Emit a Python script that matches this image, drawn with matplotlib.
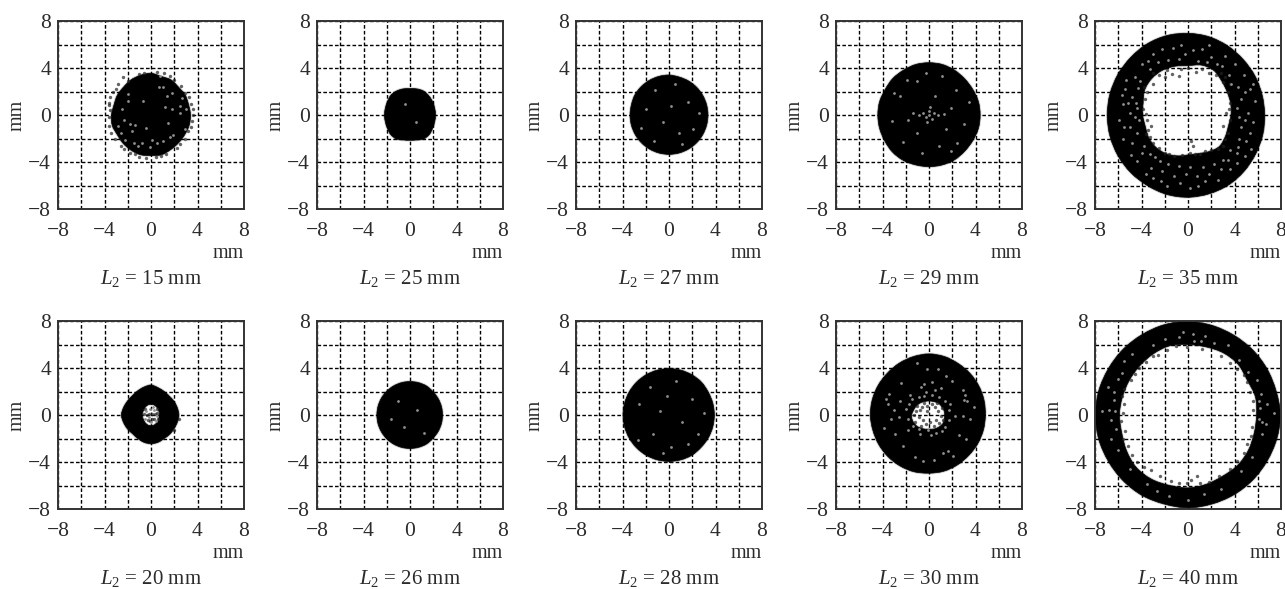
import matplotlib.pyplot as plt
import numpy as np
from matplotlib.path import Path
from matplotlib.patches import PathPatch

plt.rcParams['font.family'] = ['Liberation Serif', 'DejaVu Serif']
plt.rcParams['mathtext.fontset'] = 'custom'
plt.rcParams['mathtext.rm'] = 'Liberation Serif'
plt.rcParams['mathtext.it'] = 'Liberation Serif:italic'

W, H = 1285, 589
TXT = '#2b2b2b'

# L2 value of each panel, left to right
top_L2 = [15, 25, 27, 29, 35]
bottom_L2 = [20, 26, 28, 30, 40]

# outline radii in mm, every 15 deg counter-clockwise from east
outer_15 = [3.4, 3.35, 3.4, 3.35, 3.45, 3.4, 3.55, 3.5, 3.45, 3.35, 3.35, 3.3, 3.4, 3.45, 3.35, 3.4, 3.45, 3.5, 3.45, 3.5, 3.4, 3.35, 3.35, 3.4]
outer_25 = [2.2, 2.2, 2.25, 2.3, 2.35, 2.3, 2.25, 2.3, 2.35, 2.35, 2.25, 2.2, 2.2, 2.2, 2.25, 2.35, 2.35, 2.2, 2.15, 2.2, 2.35, 2.35, 2.25, 2.2]
outer_27 = [3.35, 3.35, 3.35, 3.35, 3.35, 3.35, 3.4, 3.4, 3.4, 3.4, 3.4, 3.35, 3.35, 3.35, 3.35, 3.35, 3.35, 3.35, 3.35, 3.35, 3.35, 3.35, 3.35, 3.35]
outer_29 = [4.4, 4.4, 4.35, 4.35, 4.4, 4.45, 4.45, 4.45, 4.4, 4.4, 4.35, 4.4, 4.4, 4.4, 4.4, 4.45, 4.45, 4.4, 4.4, 4.4, 4.4, 4.35, 4.35, 4.4]
outer_35 = [6.6, 6.6, 6.65, 6.7, 6.8, 6.9, 6.95, 7.0, 7.0, 6.95, 6.95, 6.95, 6.95, 6.95, 6.95, 6.95, 6.95, 7.0, 7.0, 6.95, 6.9, 6.8, 6.7, 6.65]
outer_20 = [2.4, 2.35, 2.3, 2.25, 2.3, 2.4, 2.55, 2.45, 2.35, 2.3, 2.35, 2.45, 2.55, 2.45, 2.35, 2.25, 2.3, 2.4, 2.45, 2.4, 2.3, 2.3, 2.3, 2.35]
outer_26 = [2.8, 2.8, 2.8, 2.8, 2.85, 2.85, 2.85, 2.85, 2.85, 2.85, 2.85, 2.85, 2.85, 2.85, 2.85, 2.85, 2.85, 2.85, 2.85, 2.85, 2.85, 2.8, 2.8, 2.8]
outer_28 = [3.9, 3.9, 3.9, 3.95, 3.95, 3.95, 3.95, 3.95, 3.95, 3.95, 3.95, 3.95, 3.95, 3.95, 3.95, 3.95, 3.95, 3.95, 3.95, 3.95, 3.95, 3.9, 3.9, 3.9]
outer_30 = [4.85, 4.9, 4.95, 5.0, 5.05, 5.15, 5.2, 5.15, 5.1, 5.05, 5.05, 5.05, 5.05, 5.0, 5.0, 5.0, 5.0, 5.0, 4.95, 4.95, 4.9, 4.85, 4.85, 4.85]
outer_40 = [7.95, 7.85, 7.85, 7.85, 7.85, 7.9, 7.95, 7.95, 7.9, 7.9, 7.9, 7.95, 7.95, 7.95, 7.9, 7.9, 7.9, 7.85, 7.9, 7.85, 7.85, 7.85, 7.85, 7.9]

inner_35 = [3.7, 3.8, 3.9, 4.1, 4.4, 4.4, 4.2, 4.3, 4.4, 4.4, 4.3, 4.0, 3.9, 3.8, 3.9, 3.9, 3.8, 3.6, 3.4, 3.4, 3.6, 3.8, 3.7, 3.6]
inner_20 = [0.7, 0.75, 0.75, 0.8, 0.85, 0.9, 0.9, 0.9, 0.85, 0.8, 0.75, 0.75, 0.75, 0.75, 0.75, 0.8, 0.85, 0.9, 0.9, 0.9, 0.85, 0.8, 0.75, 0.7]
inner_30 = [1.35, 1.35, 1.3, 1.3, 1.25, 1.2, 1.2, 1.2, 1.25, 1.3, 1.35, 1.4, 1.5, 1.5, 1.45, 1.4, 1.3, 1.25, 1.2, 1.25, 1.3, 1.35, 1.4, 1.35]
inner_40 = [5.9, 6.0, 5.9, 6.1, 6.1, 6.0, 6.0, 6.1, 6.0, 5.9, 5.85, 5.85, 5.9, 5.9, 6.1, 6.3, 6.3, 6.2, 6.2, 6.1, 6.0, 6.05, 6.0, 5.9]

# pale specks inside the black parts, (x, y) in mm
pale_15 = [(-1.95, 1.8), (-1.95, 1.2), (-0.66, 1.2), (-2.5, 0.5), (1.35, 1.6), (1.8, 1.85), (2.65, 1.45), (2.5, 0.75), (1.8, 0.5), (1.2, 0.7), (2.5, 0.15), (1.45, -0.65), (-2.3, -0.45), (-2.8, -0.9), (-1.8, -0.75), (-1.4, -0.85), (-0.45, -1.1), (-1.65, -1.4), (1.9, -1.7), (1.65, -1.85), (-1.5, -2.35), (-0.8, -2.4), (0.05, -2.1), (0.5, -2.35), (1.05, -2.25), (-0.1, -2.7), (0.8, 3.3), (0.7, 2.4), (1.05, 2.4), (-2.6, -1.5), (-2.2, -2.1), (2.9, -1.2), (3.0, 0.5), (-1.1, -2.6)]
pale_25 = [(-0.4, 0.9), (0.5, -0.6)]
pale_27 = [(-1.2, 2.1), (0.5, 2.6), (1.6, 1.1), (-2.0, 0.5), (-0.5, -0.6), (0.9, -1.5), (-1.3, -2.2), (2.1, -1.2), (0.2, 0.8), (-2.4, -1.1), (1.1, -2.5), (2.6, 0.2)]
pale_29 = [(-0.5, 0.2), (0.0, 0.3), (0.4, 0.2), (0.8, 0.0), (-0.9, 0.0), (-0.3, -0.2), (0.3, -0.3), (-1.4, 0.2), (1.3, 0.1), (0.1, 0.7), (-0.2, -0.6), (0.0, 0.0), (-1.8, -0.4), (1.9, 0.6), (-2.5, 1.6), (2.3, 2.1), (-1.0, 2.9), (1.1, 3.3), (3.0, -0.8), (-3.2, -0.5), (-2.2, -2.3), (0.9, -2.6), (2.4, -2.4), (-0.6, -3.2), (3.4, 1.1), (-3.0, 1.9), (0.5, 1.6), (-1.0, -1.5), (1.5, -1.2), (-0.3, 3.6), (1.9, -3.1), (-1.9, 3.0)]
pale_35 = [(-5.4, 2.2), (-5.0, 0.2), (-4.6, -0.2), (-4.2, -0.4), (-4.8, 1.5), (-5.3, 3.0), (-4.6, 3.2), (-4.0, 4.3), (-3.0, 5.2), (-2.2, 5.6), (-1.3, 5.7), (0.4, 5.5), (1.2, 5.6), (2.0, 4.9), (3.2, 5.0), (4.0, 4.3), (4.8, 3.4), (5.3, 2.2), (4.6, 1.4), (4.2, 0.6), (5.2, 0.2), (5.6, -0.6), (4.6, -1.0), (5.0, -2.2), (4.2, -3.2), (3.4, -3.8), (2.8, -4.6), (1.8, -5.0), (0.8, -5.2), (-0.2, -5.0), (-1.2, -5.2), (-2.2, -4.8), (-3.2, -4.5), (-4.0, -3.2), (-4.8, -2.4), (-5.6, -2.0), (-5.9, -0.4), (-3.6, -5.0), (-1.8, -6.0), (0.9, -6.0), (2.6, -5.5), (-4.9, -3.4), (-5.2, 1.0), (5.8, 1.2), (4.9, -3.5), (-3.4, 4.6), (-0.6, 6.0), (1.8, 6.0), (-0.8, 4.8), (2.5, 4.3), (3.7, 2.6), (-4.3, 2.3), (4.4, -2.0), (-3.8, -2.6), (0.2, -4.4), (-2.4, -3.9),
           (-5.6, 0.9), (-5.0, -1.0), (-4.4, 0.6), (-4.4, -1.5), (-4.5, 1.0), (-5.5, -1.0), (-4.1, 2.9), (-3.3, 3.9), (-2.6, 4.5), (-1.7, 4.7), (-0.3, 5.2), (0.9, 4.6), (1.6, 4.5), (2.9, 4.2), (3.5, 3.4), (4.3, 2.4), (4.9, 2.0), (5.6, 2.6), (4.4, -0.2), (4.9, -0.4), (5.3, -1.5), (4.3, -2.7), (3.6, -3.0), (3.0, -3.8), (2.2, -4.2), (1.3, -4.4), (-0.8, -4.3), (-1.7, -4.2), (-2.8, -3.6), (-3.3, -3.3), (-4.4, -3.9), (-3.0, -5.4), (-0.7, -5.8), (1.5, -5.6), (3.6, -4.6), (4.2, -4.1), (0.2, -6.2), (-2.3, -5.6), (5.4, -2.9), (-5.7, 1.7)]
pale_20 = [(-0.4, 0.3), (0.3, 0.4), (0.5, -0.1), (-0.5, -0.3), (0.0, -0.6), (0.2, 0.7), (-0.2, -0.2), (0.4, -0.5), (-0.1, 0.55)]
pale_26 = [(-1.0, 1.2), (0.6, 0.4), (-0.5, -1.0), (1.2, -1.5), (-1.6, -0.3)]
pale_28 = [(-1.6, 2.4), (0.6, 2.9), (2.0, 1.4), (-2.6, 0.9), (-0.8, 0.3), (1.1, -0.6), (-1.4, -1.6), (2.5, -1.6), (0.2, -2.7), (-2.7, -2.1), (-0.2, 1.6), (3.0, 0.2), (1.6, -2.5), (-0.5, -3.2)]
pale_30 = [(-3.7, 1.4), (-3.4, 1.8), (-3.0, 0.4), (-3.3, -0.3), (-2.6, -0.2), (-2.4, 2.7), (-1.6, 1.7), (-0.7, 2.4), (-0.3, 2.0), (0.5, 2.1), (1.0, 2.3), (1.5, 3.3), (2.0, 2.9), (2.9, 2.1), (3.1, 1.7), (3.3, 1.2), (3.5, -0.3), (2.9, -0.1), (2.2, -0.1), (1.4, -1.0), (2.6, -1.7), (3.2, -2.0), (1.6, -3.1), (1.2, -3.2), (0.4, -3.8), (-0.5, -3.9), (-1.2, -3.6), (-2.2, -2.6), (-2.9, -1.6), (-1.8, -1.3), (-1.4, -0.9), (-0.8, -1.6), (-0.1, -1.3), (0.6, -1.5), (-2.0, 0.5), (1.8, 0.9), (-0.2, 3.9), (-1.0, 4.4), (0.8, 3.9), (-3.9, -1.1), (3.9, 0.7), (2.1, -3.5),
           (-0.9, 1.5), (-0.4, 1.6), (0.3, 1.7), (0.9, 1.5), (1.4, 1.2), (1.7, 0.4), (1.7, -0.4), (-1.7, 0.9), (-1.8, -0.3), (-1.5, 1.4), (-0.9, -1.2), (0.2, -1.7), (1.1, -1.4), (-0.4, 2.6), (0.3, 2.8), (3.0, 1.3), (-2.5, 1.2), (-3.5, 0.9)]
pale_40 = [(-6.4, 1.3), (-6.8, 0.4), (-7.4, 0.3), (-6.6, -0.4), (-6.9, 2.4), (-6.0, 3.1), (-5.7, 3.6), (-4.8, 5.2), (-3.0, 6.0), (-2.0, 6.5), (-0.4, 7.1), (0.4, 6.9), (1.5, 6.7), (3.4, 6.0), (4.4, 4.7), (5.9, 3.0), (6.3, 1.8), (6.8, 0.9), (6.1, -0.3), (6.7, -0.8), (6.4, -1.6), (5.5, -3.6), (4.6, -4.8), (2.8, -6.3), (1.4, -6.7), (0.0, -7.2), (-1.6, -6.9), (-3.5, -5.9), (-5.0, -4.6), (-6.0, -3.0), (-6.6, -2.0), (7.4, 0.2), (-2.7, -6.5),
           (-6.3, 0.3), (-6.4, 2.0), (-6.2, -1.2), (6.2, 0.6), (6.4, -0.6), (6.1, 1.2), (0.5, 6.3), (1.1, 6.3), (-0.8, 6.6), (2.2, 6.1), (-5.5, 4.6), (5.2, 3.7)]

# dark specks around the ragged edges, (x, y) in mm
dark_15 = [(-3.5, 1.5), (-3.6, 1.05), (-3.65, 0.85), (-3.3, 2.0), (-3.05, 2.25), (-2.4, 3.25), (-1.0, 3.5), (-0.6, 3.6), (0.5, 3.7), (1.1, 3.55), (2.0, 3.0), (2.6, 2.5), (2.9, 1.9), (3.45, 0.9), (3.6, 0.0), (3.45, -1.0), (3.2, -1.4), (2.9, -2.0), (2.2, -2.8), (1.3, -3.3), (0.4, -3.55), (-1.0, -3.55), (-1.8, -3.2), (-2.6, -2.6), (-3.1, -2.0), (-3.4, -1.5), (-3.6, -0.9), (-2.0, 2.9), (1.6, 3.3), (3.25, 1.5), (3.6, 0.5), (3.5, -0.5), (-3.65, -0.2), (-3.55, 0.4), (-0.4, -3.65), (0.9, -3.5), (-1.4, -3.35), (2.5, -2.5), (-2.3, -2.9), (-2.8, 2.6)]
dark_25 = []
dark_27 = []
dark_29 = []
dark_35 = [(-3.9, 0.5), (-3.6, 0.1), (-3.5, -0.4), (-3.4, -1.3), (-3.6, -1.6), (-3.0, -2.4), (-2.0, -3.2), (-1.2, -3.5), (0.2, -3.2), (0.4, -2.6), (0.3, -2.2), (1.0, -3.3), (2.0, -3.0), (3.0, -2.6), (3.4, -1.5), (3.6, -0.4), (3.3, 0.2), (3.6, 1.0), (3.4, 2.0), (3.0, 2.8), (2.4, 3.4), (1.2, 3.9), (0.7, 3.7), (-0.6, 3.9), (-1.4, 3.5), (-2.0, 3.2), (-3.0, 2.6), (-3.8, 2.4), (-3.0, 3.6), (3.2, 3.2), (-0.8, 3.3), (-3.2, -0.9), (3.0, -0.9),
           (-3.7, 1.4), (-3.5, 2.0), (-2.5, 3.4), (-1.8, 3.8), (0.0, 4.0), (1.8, 3.6), (2.8, 3.6), (3.6, 2.6), (3.5, 0.5), (3.2, -2.0), (2.6, -2.9), (1.5, -3.1), (0.6, -3.3), (-0.5, -3.4), (-1.6, -3.3), (-2.5, -2.8), (-3.3, -1.9)]
dark_20 = [(-0.2, 0.1), (0.1, 0.1), (0.35, 0.1), (0.1, -0.35), (-0.35, 0.0), (-0.1, -0.5), (0.55, 0.2), (2.45, -0.3), (2.0, -1.3), (-0.5, 0.5), (0.5, 0.5), (0.3, -0.3), (-0.3, -0.45), (0.6, -0.3), (-0.6, 0.1)]
dark_26 = []
dark_28 = []
dark_30 = [(-0.6, 0.7), (-0.2, 0.8), (0.5, 0.7), (0.8, 0.3), (-0.9, -0.2), (-0.5, -0.4), (0.1, -0.6), (0.6, -0.4), (1.0, -0.1), (-1.1, 0.3), (-0.3, -0.8), (0.3, 0.9), (-0.8, 0.4), (-0.2, 0.3), (1.1, 0.6), (-1.2, -0.6), (-0.7, -0.9), (0.9, -0.7), (0.4, -0.9), (-1.0, 0.8), (0.7, 1.0), (1.2, -0.4), (-1.3, 0.0), (-0.4, 1.0)]
dark_40 = [(-5.5, 0.9), (-5.8, -0.5), (-5.4, -1.4), (-5.2, -2.6), (-4.4, -4.0), (-3.2, -4.7), (-1.5, -5.6), (-0.1, -5.8), (0.8, -5.2), (0.3, -5.5), (1.8, -5.7), (3.6, -4.6), (4.8, -3.2), (5.4, -1.8), (5.6, 0.4), (5.3, 2.0), (4.8, 3.4), (3.6, 4.4), (2.8, 5.0), (1.2, 5.6), (-1.0, 5.9), (-2.6, 5.1), (-3.0, 5.0), (-4.2, 4.0), (-4.9, 3.0), (-5.5, 2.2),
           (-5.7, 1.6), (-5.6, 0.2), (-5.6, -2.0), (-4.8, -3.4), (-3.8, -4.4), (-2.4, -5.2), (-0.8, -5.8), (1.0, -5.8), (2.7, -5.2), (4.2, -3.9), (5.1, -2.5), (5.5, -1.0), (5.6, 1.2), (5.1, 2.8), (4.2, 3.9), (-0.1, 5.8), (-1.8, 5.5), (-3.6, 4.5), (-4.6, 3.5)]

top_panels = [(outer_15, None, pale_15, dark_15), (outer_25, None, pale_25, dark_25),
              (outer_27, None, pale_27, dark_27), (outer_29, None, pale_29, dark_29),
              (outer_35, inner_35, pale_35, dark_35)]
bottom_panels = [(outer_20, inner_20, pale_20, dark_20), (outer_26, None, pale_26, dark_26),
                 (outer_28, None, pale_28, dark_28), (outer_30, inner_30, pale_30, dark_30),
                 (outer_40, inner_40, pale_40, dark_40)]

lefts = [58, 317, 576, 836, 1095]
tops = [21, 321]
box_w, box_h = 186, 188


def ring_xy(radii):
    r = np.array(radii)
    t = np.deg2rad(np.arange(len(r)) * 360 / len(r))
    return np.column_stack([r * np.cos(t), r * np.sin(t)])


def smooth_loop(pts):
    # closed bezier through the read outline points, so no facets show
    verts = [pts[0]]
    codes = [Path.MOVETO]
    n = len(pts)
    for i in range(n):
        p0, p1, p2, p3 = pts[i - 1], pts[i], pts[(i + 1) % n], pts[(i + 2) % n]
        verts += [p1 + (p2 - p0) / 6, p2 - (p3 - p1) / 6, p2]
        codes += [Path.CURVE4] * 3
    return verts, codes


def draw_blob(ax, outer, inner):
    verts, codes = smooth_loop(ring_xy(outer))
    if inner is not None:
        v2, c2 = smooth_loop(ring_xy(inner)[::-1])
        verts += v2
        codes += c2
    path = Path(np.array(verts), codes)
    ax.add_patch(PathPatch(path, fc='none', ec='black', lw=1.8, alpha=0.18, zorder=2))
    ax.add_patch(PathPatch(path, fc='black', ec='black', lw=0.5, zorder=3))


def draw_panel(fig, left, top, L2, outer, inner, pale, dark):
    ax = fig.add_axes([left / W, 1 - (top + box_h) / H, box_w / W, box_h / H])
    ax.set_xlim(-8, 8)
    ax.set_ylim(-8, 8)
    ax.set_xticks(np.arange(-8, 9, 4))
    ax.set_yticks(np.arange(-8, 9, 4))
    ax.set_xticks(np.arange(-8, 9, 2), minor=True)
    ax.set_yticks(np.arange(-8, 9, 2), minor=True)
    ax.grid(True, which='both', color='black', ls=(0, (2.6, 1.6)), lw=1.0, zorder=1)
    ax.set_axisbelow(True)
    ax.tick_params(which='both', length=0, labelsize=15.5, labelcolor=TXT)
    ax.tick_params(axis='x', pad=9)
    ax.tick_params(axis='y', pad=5)
    for s in ax.spines.values():
        s.set_linewidth(1.4)
        s.set_color('#333333')
        s.set_zorder(6)

    draw_blob(ax, outer, inner)
    if dark:
        d = np.array(dark)
        ax.scatter(d[:, 0], d[:, 1], s=6, c='#222222', alpha=0.7, lw=0, zorder=4)
    if pale:
        p = np.array(pale)
        ax.scatter(p[:, 0], p[:, 1], s=4, c='#909090', lw=0, zorder=5)

    ax.set_ylabel('mm', fontsize=14.5, color=TXT, labelpad=1)
    ax.text(1, -0.235, 'mm', transform=ax.transAxes, ha='right', va='center', fontsize=14.5, color=TXT)
    ax.text(0.5, -0.37, '$L_2$ = %d mm' % L2, transform=ax.transAxes, ha='center', va='center',
            fontsize=15, color=TXT)


fig = plt.figure(figsize=(W / 100, H / 100), dpi=100)

for left, L2, panel in zip(lefts, top_L2, top_panels):
    draw_panel(fig, left, tops[0], L2, *panel)
for left, L2, panel in zip(lefts, bottom_L2, bottom_panels):
    draw_panel(fig, left, tops[1], L2, *panel)

plt.savefig('out.png', dpi=100)
plt.close()
